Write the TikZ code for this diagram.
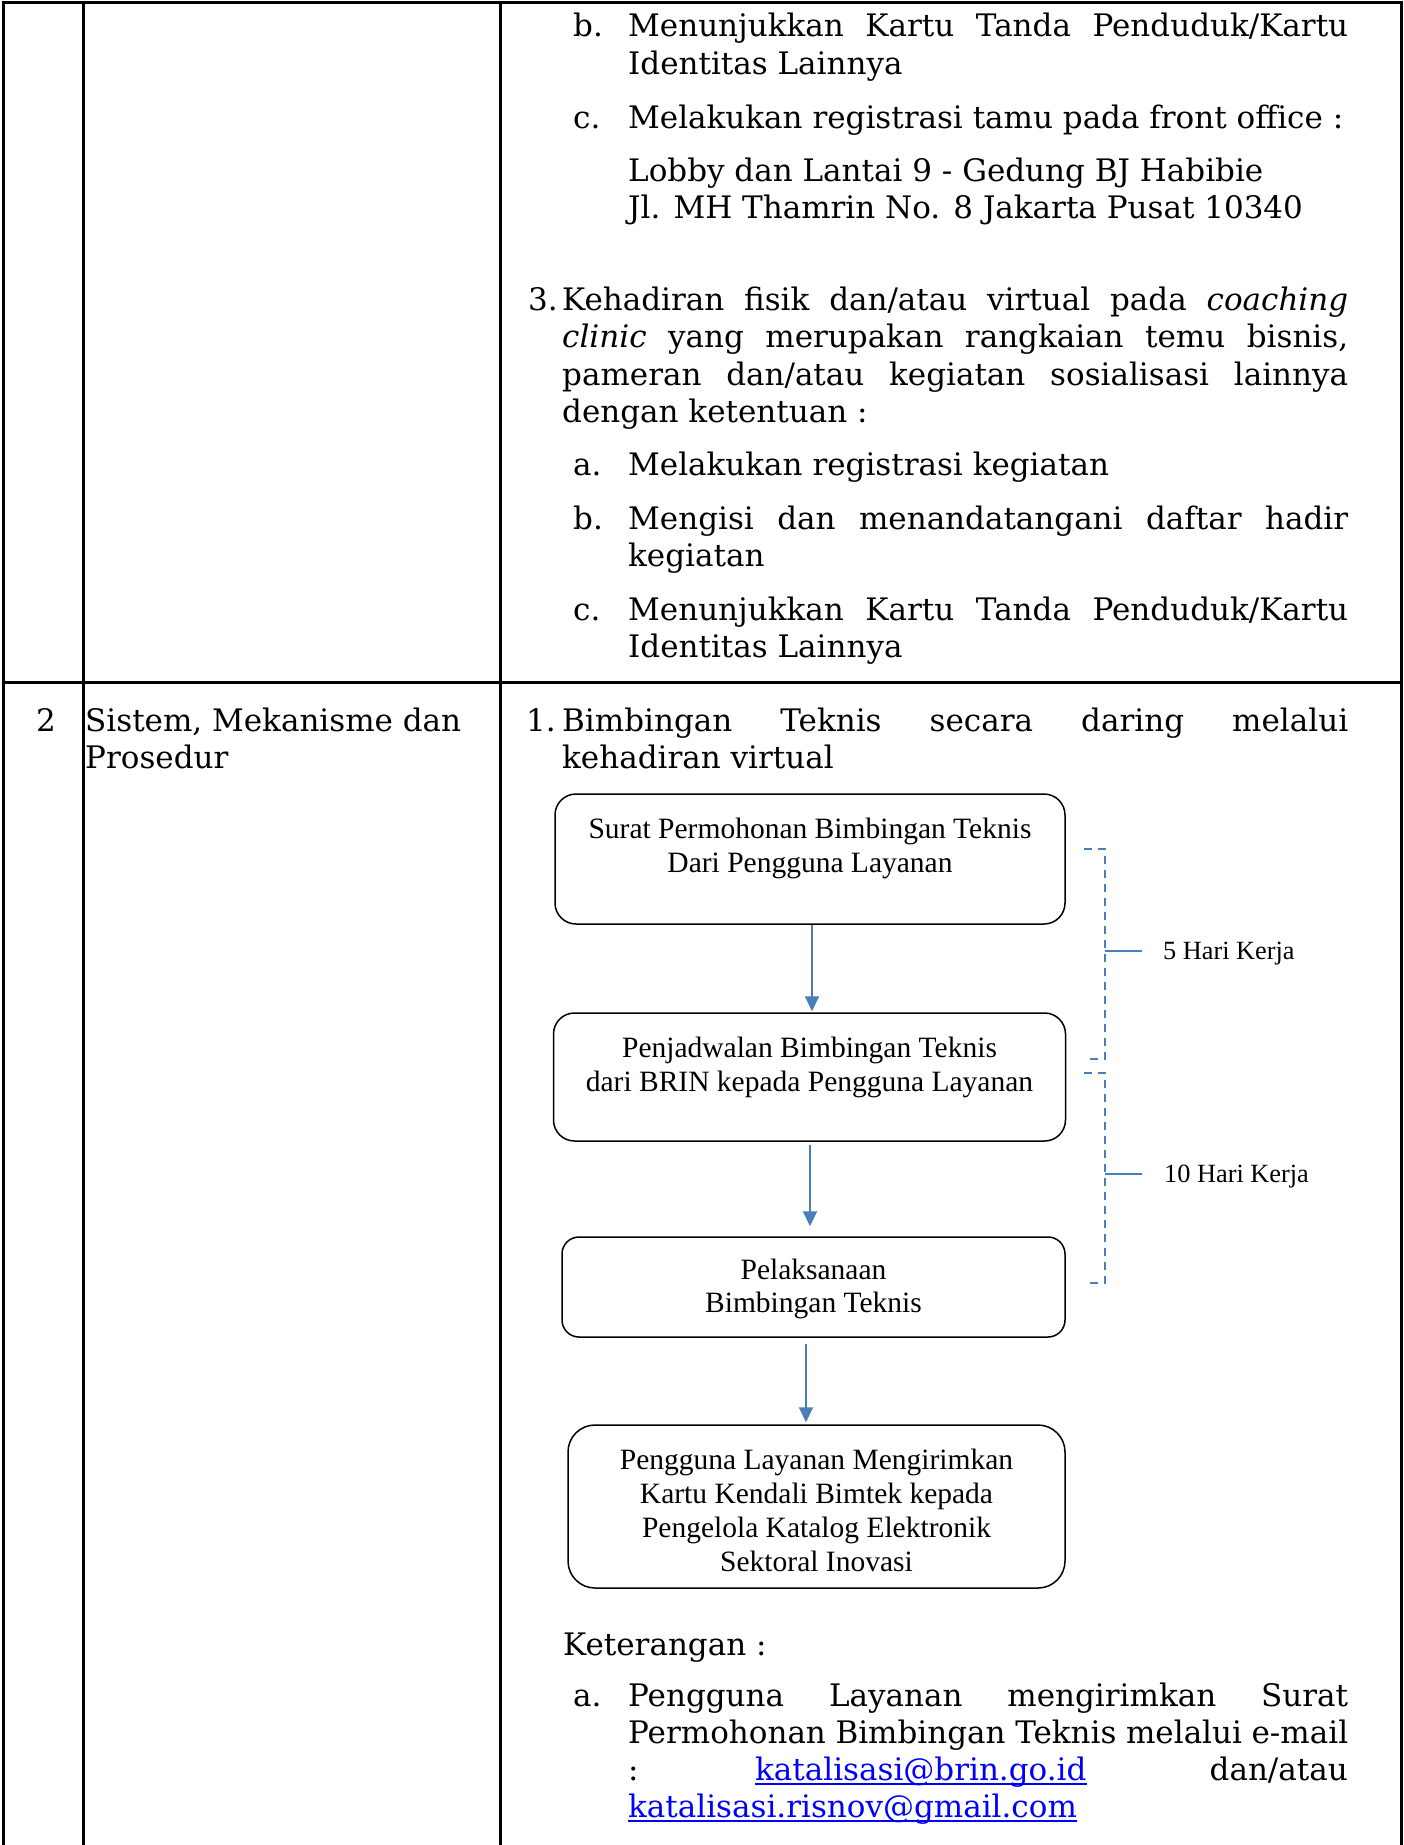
\documentclass[tikz,border=0pt]{standalone}
\usepackage{fontspec}
\setmainfont{DejaVu Serif}
\newfontfamily\tnr{Liberation Serif}
\usetikzlibrary{arrows.meta,calc}
\definecolor{flowblue}{RGB}{74,126,187}
\definecolor{linkblue}{RGB}{0,0,255}
\newcommand\bodyfont{\fontsize{31}{37.5}\selectfont}
\newcommand\boxfont{\tnr\fontsize{29.5}{34}\selectfont}
\newcommand\notefont{\tnr\fontsize{26.3}{30}\selectfont}
\newcommand\jl[2]{\makebox[#1pt][s]{#2}}
\begin{document}
\begin{tikzpicture}[x=1pt,y=-1pt,
  txt/.style={anchor=base west,inner sep=0pt,font=\bodyfont},
  lnk/.style={anchor=base west,inner sep=0pt,font=\bodyfont,text=linkblue},
  btxt/.style={anchor=base,inner sep=0pt,font=\boxfont},
  ntxt/.style={anchor=base west,inner sep=0pt,font=\notefont},
  flowbox/.style={draw=black,line width=1.5pt,rounded corners=#1,inner sep=0pt},
  flowarrow/.style={draw=flowblue,line width=2pt,-{Triangle[length=15pt,width=14pt]}},
  bracket/.style={draw=flowblue,line width=2pt,dash pattern=on 8pt off 6pt},
  tick/.style={draw=flowblue,line width=2pt},
  rule/.style={draw=black,line width=3pt},
  uline/.style={draw=linkblue,line width=2pt}]
\fill[white] (0,0) rectangle (1404,1845);
\useasboundingbox (0,0) rectangle (1404,1845);

% table rules
\draw[rule] (3,1845) -- (3,2) -- (1401,2) -- (1401,1845);
\draw[rule] (83,2) -- (83,1845);
\draw[rule] (500,2) -- (500,1845);
\draw[rule] (3,682) -- (1401,682);

% row 1, column 3
\node[txt] (a1) at (573,36) {b.};
\node[txt] (a1t) at (628,36) {\jl{720}{Menunjukkan Kartu Tanda Penduduk/Kartu}};
\node[txt] (a2t) at (628,74) {Identitas Lainnya};
\node[txt] (a3) at (573,128) {c.};
\node[txt] (a3t) at (628,128) {Melakukan registrasi tamu pada front office :};
\node[txt] (a4t) at (628,181) {Lobby dan Lantai 9 - Gedung BJ Habibie};
\node[txt] (a5t) at (628,218) {Jl. MH Thamrin No. 8 Jakarta Pusat 10340};
\node[txt] (a6) at (528,310) {3.};
\node[txt] (a6t) at (562,310) {\jl{786}{Kehadiran fisik dan/atau virtual pada \textit{coaching}}};
\node[txt] (a7t) at (562,347) {\jl{786}{\textit{clinic} yang merupakan rangkaian temu bisnis,}};
\node[txt] (a8t) at (562,385) {\jl{786}{pameran dan/atau kegiatan sosialisasi lainnya}};
\node[txt] (a9t) at (562,422) {dengan ketentuan :};
\node[txt] (a10) at (573,475) {a.};
\node[txt] (a10t) at (628,475) {Melakukan registrasi kegiatan};
\node[txt] (a11) at (573,529) {b.};
\node[txt] (a11t) at (628,529) {\jl{720}{Mengisi dan menandatangani daftar hadir}};
\node[txt] (a12t) at (628,566) {kegiatan};
\node[txt] (a13) at (573,620) {c.};
\node[txt] (a13t) at (628,620) {\jl{720}{Menunjukkan Kartu Tanda Penduduk/Kartu}};
\node[txt] (a14t) at (628,657) {Identitas Lainnya};

% row 2
\node[txt,anchor=base] (n2) at (46,731) {2};
\node[txt] (s1) at (85,731) {Sistem, Mekanisme dan};
\node[txt] (s2) at (85,768) {Prosedur};
\node[txt] (p1) at (526,731) {1.};
\node[txt] (p1t) at (562,731) {\jl{786}{Bimbingan Teknis secara daring melalui}};
\node[txt] (p2t) at (562,768) {kehadiran virtual};

% flow boxes
\node[flowbox=21pt,minimum width=510pt,minimum height=130pt] (b1) at (810,859) {};
\node[btxt] (b1l1) at (810,838) {Surat Permohonan Bimbingan Teknis};
\node[btxt] (b1l2) at (810,872) {Dari Pengguna Layanan};

\node[flowbox=21pt,minimum width=512pt,minimum height=128pt] (b2) at (809.5,1077) {};
\node[btxt] (b2l1) at (809.5,1057) {Penjadwalan Bimbingan Teknis};
\node[btxt] (b2l2) at (809.5,1091) {dari BRIN kepada Pengguna Layanan};

\node[flowbox=17pt,minimum width=503pt,minimum height=100pt] (b3) at (813.5,1287) {};
\node[btxt] (b3l1) at (813.5,1279) {Pelaksanaan};
\node[btxt] (b3l2) at (813.5,1312) {Bimbingan Teknis};

\node[flowbox=27pt,minimum width=497pt,minimum height=163pt] (b4) at (816.5,1506.5) {};
\node[btxt] (b4l1) at (816.5,1469) {Pengguna Layanan Mengirimkan};
\node[btxt] (b4l2) at (816.5,1503) {Kartu Kendali Bimtek kepada};
\node[btxt] (b4l3) at (816.5,1537) {Pengelola Katalog Elektronik};
\node[btxt] (b4l4) at (816.5,1571) {Sektoral Inovasi};

% arrows
\draw[flowarrow] ([xshift=2pt]b1.south) -- ([xshift=2.5pt,yshift=1pt]b2.north);
\draw[flowarrow] ([xshift=0.5pt,yshift=-3pt]b2.south) -- ([xshift=-3.5pt,yshift=10pt]b3.north);
\draw[flowarrow] ([xshift=-7.5pt,yshift=-6pt]b3.south) -- ([xshift=-10.5pt,yshift=2pt]b4.north);

% brackets
\coordinate (k1a) at (1084,849);
\coordinate (k1b) at (1105,849);
\coordinate (k1c) at (1105,1059);
\coordinate (k1d) at (1088,1059);
\coordinate (k1m) at (1105,951);
\coordinate (k1e) at (1142,951);
\draw[bracket] (k1a) -- (k1b) -- (k1c) -- (k1d);
\draw[tick] (k1m) -- (k1e);
\node[ntxt] (h5) at (1163,959) {5 Hari Kerja};

\coordinate (k2a) at (1084,1073);
\coordinate (k2b) at (1105,1073);
\coordinate (k2c) at (1105,1283);
\coordinate (k2d) at (1088,1283);
\coordinate (k2m) at (1105,1174);
\coordinate (k2e) at (1142,1174);
\draw[bracket] (k2a) -- (k2b) -- (k2c) -- (k2d);
\draw[tick] (k2m) -- (k2e);
\node[ntxt] (h10) at (1164,1182) {10 Hari Kerja};

% keterangan
\node[txt] (k0) at (563,1655) {Keterangan :};
\node[txt] (q1) at (573,1706) {a.};
\node[txt] (q1t) at (628,1706) {\jl{720}{Pengguna Layanan mengirimkan Surat}};
\node[txt] (q2t) at (628,1743) {\jl{720}{Permohonan Bimbingan Teknis melalui e-mail}};
\node[txt] (q3a) at (628,1780) {:};
\node[lnk] (q3l) at (755,1780) {katalisasi@brin.go.id};
\node[txt,anchor=base east] (q3b) at (1348,1780) {dan/atau};
\node[lnk] (q4l) at (628,1817) {katalisasi.risnov@gmail.com};
\draw[uline] ([yshift=-4pt]q3l.base west) -- ([yshift=-4pt]q3l.base east);
\draw[uline] ([yshift=-4pt]q4l.base west) -- ([yshift=-4pt]q4l.base east);
\end{tikzpicture}
\end{document}
